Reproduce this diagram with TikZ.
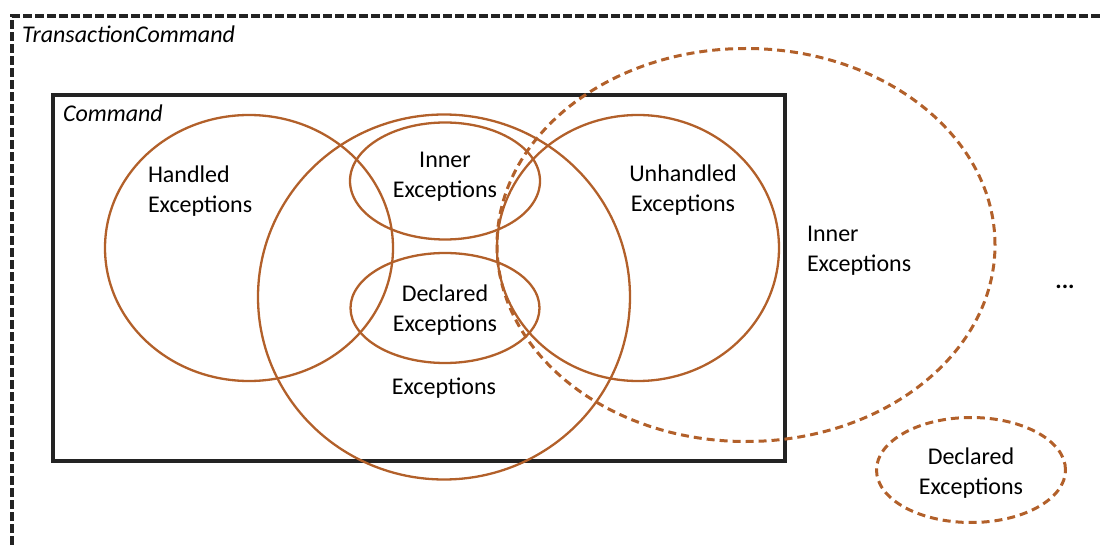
\documentclass[tikz,border=0pt]{standalone}
\usepackage{fontspec}
\setmainfont{Carlito}
\usetikzlibrary{shapes.geometric}
\definecolor{setbrown}{RGB}{178,96,42}
\definecolor{framegray}{RGB}{35,35,35}
\begin{document}
\begin{tikzpicture}[x=0.5pt,y=-0.5pt,
  every node/.style={font=\fontsize{12}{15}\selectfont, inner sep=0pt, outer sep=0pt},
  setring/.style={ellipse, draw=setbrown, line width=1.15pt},
  dashring/.style={ellipse, draw=setbrown, line width=1.5pt, dash pattern=on 4pt off 2.5pt},
  lbl/.style={align=center},
  title/.style={font=\fontsize{12}{15}\selectfont\itshape, anchor=base west}
]
\useasboundingbox (0,0) rectangle (1103,545);

% outer transaction frame (open to the right and below)
\coordinate (tcBL) at (12,545);
\coordinate (tcTL) at (12,16);
\coordinate (tcTR) at (1103,16);
\draw[framegray, line width=1.6pt, dash pattern=on 4.5pt off 1.5pt] (tcBL) -- (tcTL) -- (tcTR);
\node[title] (tctitle) at (22,43) {TransactionCommand};

% inner command box
\node[draw=framegray, line width=1.6pt, minimum width=366pt, minimum height=183pt] (cmd) at (419,278) {};
\node[title] (cmdtitle) at (63,122) {Command};

% exception sets
\node[setring, minimum width=288*0.5pt, minimum height=266*0.5pt] (handled) at (249,248) {};
\node[setring, minimum width=372*0.5pt, minimum height=365*0.5pt] (allexc) at (444,297) {};
\node[setring, minimum width=190*0.5pt, minimum height=117*0.5pt] (inner) at (445,181) {};
\node[setring, minimum width=189*0.5pt, minimum height=110*0.5pt] (declared) at (445,308) {};
\node[setring, minimum width=282*0.5pt, minimum height=266*0.5pt] (unhandled) at (638,248) {};
\node[dashring, minimum width=498*0.5pt, minimum height=393*0.5pt] (outerinner) at (746,245) {};
\node[dashring, minimum width=189*0.5pt, minimum height=105*0.5pt] (outerdecl) at (971,470) {};

% labels
\node[align=left, anchor=west] (handledtxt) at (148,191) {Handled\\Exceptions};
\node[lbl] (innertxt) at (445,177) {Inner\\Exceptions};
\node[lbl] (declaredtxt) at (445,310) {Declared\\Exceptions};
\node[lbl] (alltxt) at (444,388) {Exceptions};
\node[lbl] (unhandledtxt) at (683,190) {Unhandled\\Exceptions};
\node[align=left, anchor=west] (outerinnertxt) at (807,251) {Inner\\Exceptions};
\node (moretxt) at (1065,287) {\textbf{...}};
\node[lbl] (outerdecltxt) at (971,473) {Declared\\Exceptions};
\end{tikzpicture}
\end{document}
